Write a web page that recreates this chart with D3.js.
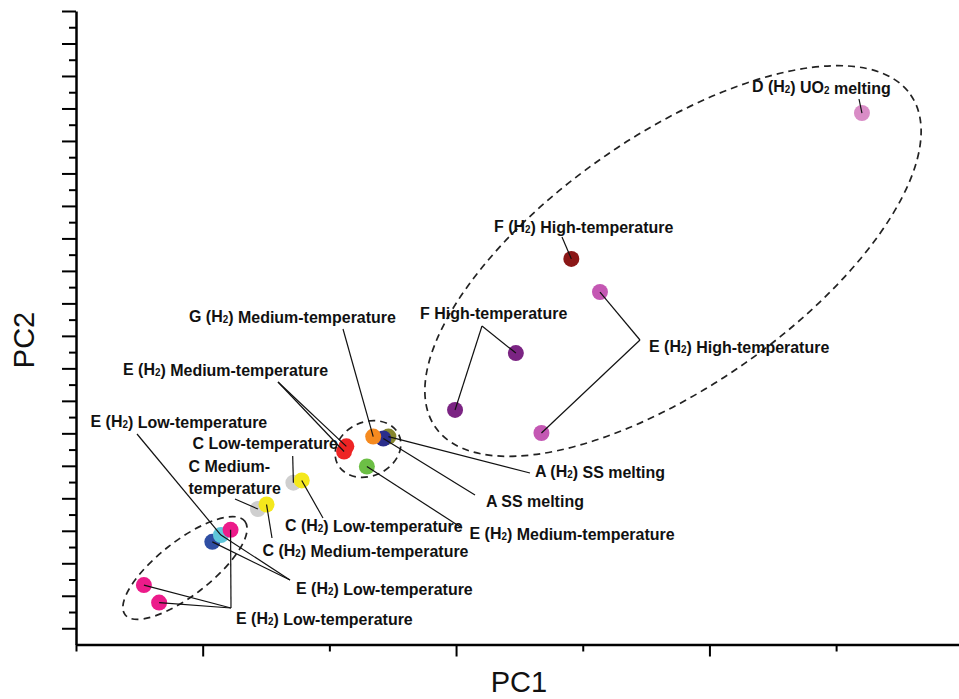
<!DOCTYPE html>
<html>
<head>
<meta charset="utf-8">
<script src="https://cdn.jsdelivr.net/npm/d3@7"></script>
<style>
body{margin:0;background:#fff;}
.lbl{font-family:"Liberation Sans",Arial,sans-serif;font-weight:bold;font-size:17px;fill:#111;}
.ttl{font-family:"Liberation Sans",Arial,sans-serif;font-size:29px;fill:#111;}
</style>
</head>
<body>
<svg id="chart" width="959" height="699"></svg>
<script>
//样本数据 (PC1, PC2 得分)
var samples=["D (H2) UO2 melting","F (H2) High-temperature","E (H2) High-temperature a","F High-temperature a","F High-temperature b","E (H2) High-temperature b",
  "E (H2) Medium-temperature a","E (H2) Medium-temperature b","A (H2) SS melting","A SS melting","G (H2) Medium-temperature","E (H2) Medium-temperature c",
  "C Low-temperature","C (H2) Low-temperature","C Medium-temperature","C (H2) Medium-temperature",
  "E (H2) Low-temperature a","E (H2) Low-temperature b","E (H2) Low-temperature c","E (H2) Low-temperature d","E (H2) Low-temperature e"];
var pc1=[2.602,1.455,1.568,1.236,0.996,1.337, 0.567,0.558,0.733,0.713,0.673,0.648, 0.358,0.391,0.218,0.252, 0.038,0.072,0.110,-0.232,-0.172];
var pc2=[15.86,11.37,10.35,8.47,6.72,6.01, 5.60,5.44,5.90,5.84,5.90,4.98, 4.48,4.55,3.67,3.81, 2.66,2.87,3.03,1.33,0.79];
var colors=["#d98cc6","#8b1717","#c457b3","#7b2483","#7b2483","#c457b3",
  "#ee2424","#ee2424","#86862e","#2b2e8c","#f58a1f","#6cbf45",
  "#cfcfcf","#f4e81c","#cfcfcf","#f4e81c",
  "#2f4ea3","#5fc6da","#ec1b8a","#ec1b8a","#ec1b8a"];

var xTicks=[-0.5,0,0.5,1,1.5,2,2.5];
var yTicks=d3.range(0,19.01,0.5);

//标注: 文字, 位置, 引线起点, 指向的样本
var notes=[
  {text:["D (H2) UO2 melting"],x:752,y:92,from:[859,99],to:[0]},
  {text:["F (H2) High-temperature"],x:494,y:232,from:[562,237],to:[1]},
  {text:["F High-temperature"],x:420,y:319,from:[482,326],to:[3,4]},
  {text:["E (H2) High-temperature"],x:649,y:352,from:[640,340],to:[2,5]},
  {text:["G (H2) Medium-temperature"],x:189,y:322,from:[343,329],to:[10]},
  {text:["E (H2) Medium-temperature"],x:123,y:375,from:[278,382],to:[6,7]},
  {text:["E (H2) Low-temperature"],x:90.5,y:426.5,from:[137,434],to:[17]},
  {text:["C Low-temperature"],x:192.5,y:449,from:[292.7,456],to:[12]},
  {text:["C Medium-","temperature"],x:188.5,y:471.5,from:[235,499],to:[14]},
  {text:["C (H2) Low-temperature"],x:285,y:531,from:[323,518],to:[13]},
  {text:["C (H2) Medium-temperature"],x:262.5,y:555.5,from:[272,538],to:[15]},
  {text:["E (H2) Low-temperature"],x:296,y:593.5,from:[290,580],to:[16,17]},
  {text:["E (H2) Low-temperature"],x:236,y:624,from:[231,608],to:[19,20,18]},
  {text:["A (H2) SS melting"],x:535,y:477,from:[530,473],to:[8]},
  {text:["A SS melting"],x:486,y:506.5,from:[475,495],to:[9]},
  {text:["E (H2) Medium-temperature"],x:469.5,y:539,from:[462,528],to:[11]}
];
//虚线椭圆分组
var groups=[
  {cx:673,cy:261,rx:290,ry:125,rot:-35},
  {cx:368,cy:449,rx:34,ry:27,rot:-25},
  {cx:185,cy:568,rx:76,ry:27,rot:-38}
];

var svg=d3.select("#chart");
var x=d3.scaleLinear().domain([-0.5,2.985]).range([76,959]);
var y=d3.scaleLinear().domain([-0.5,19]).range([644.5,11]);

//坐标轴
var gx=svg.append("g").attr("transform","translate(0,644.5)")
  .call(d3.axisBottom(x).tickValues(xTicks).tickFormat("").tickSizeOuter(0));
gx.selectAll(".tick line").attr("y2",function(d){return d%1==0?12:7;}).attr("stroke-width",2);
gx.select(".domain").attr("stroke-width",2.5);

var gy=svg.append("g").attr("transform","translate(76,0)")
  .call(d3.axisLeft(y).tickValues(yTicks).tickFormat("").tickSizeOuter(0));
gy.selectAll(".tick line").attr("x2",function(d){return d%1==0?-14:-7;}).attr("stroke-width",2);
gy.select(".domain").attr("stroke-width",2.5);

//椭圆
svg.selectAll(".grp").data(groups).enter().append("ellipse")
  .attr("class","grp")
  .attr("cx",function(d){return d.cx;}).attr("cy",function(d){return d.cy;})
  .attr("rx",function(d){return d.rx;}).attr("ry",function(d){return d.ry;})
  .attr("transform",function(d){return "rotate("+d.rot+","+d.cx+","+d.cy+")";})
  .attr("fill","none").attr("stroke","#222").attr("stroke-width",1.7)
  .attr("stroke-dasharray","7,5");

//打点
svg.selectAll(".pt").data(d3.range(pc1.length)).enter().append("circle")
  .attr("class","pt")
  .attr("cx",function(i){return x(pc1[i]);})
  .attr("cy",function(i){return y(pc2[i]);})
  .attr("r",8)
  .attr("fill",function(i){return colors[i];});

//引线
notes.forEach(function(n){
  n.to.forEach(function(i){
    svg.append("line")
      .attr("x1",n.from[0]).attr("y1",n.from[1])
      .attr("x2",x(pc1[i])).attr("y2",y(pc2[i]))
      .attr("stroke","#111").attr("stroke-width",1.2);
  });
});

//文字 (下标2), 稍微压窄
function addText(str,tx,ty){
  var t=svg.append("text").attr("class","lbl")
    .attr("transform","translate("+tx+","+ty+") scale(0.94,1)");
  var parts=str.split(/(H2|O2)/);
  parts.forEach(function(p){
    if(p=="H2"||p=="O2"){
      t.append("tspan").text(p[0]);
      t.append("tspan").attr("font-size","10.5px").attr("dy",1).text("2");
      t.append("tspan").attr("dy",-1).text("");
    }else if(p.length){
      t.append("tspan").text(p);
    }
  });
}
notes.forEach(function(n){
  n.text.forEach(function(s,k){ addText(s,n.x,n.y+k*22.5); });
});

svg.append("text").attr("class","ttl").attr("x",519).attr("y",692)
  .attr("text-anchor","middle").text("PC1");
svg.append("text").attr("class","ttl")
  .attr("transform","translate(34,340) rotate(-90)")
  .attr("text-anchor","middle").text("PC2");
</script>
</body>
</html>
